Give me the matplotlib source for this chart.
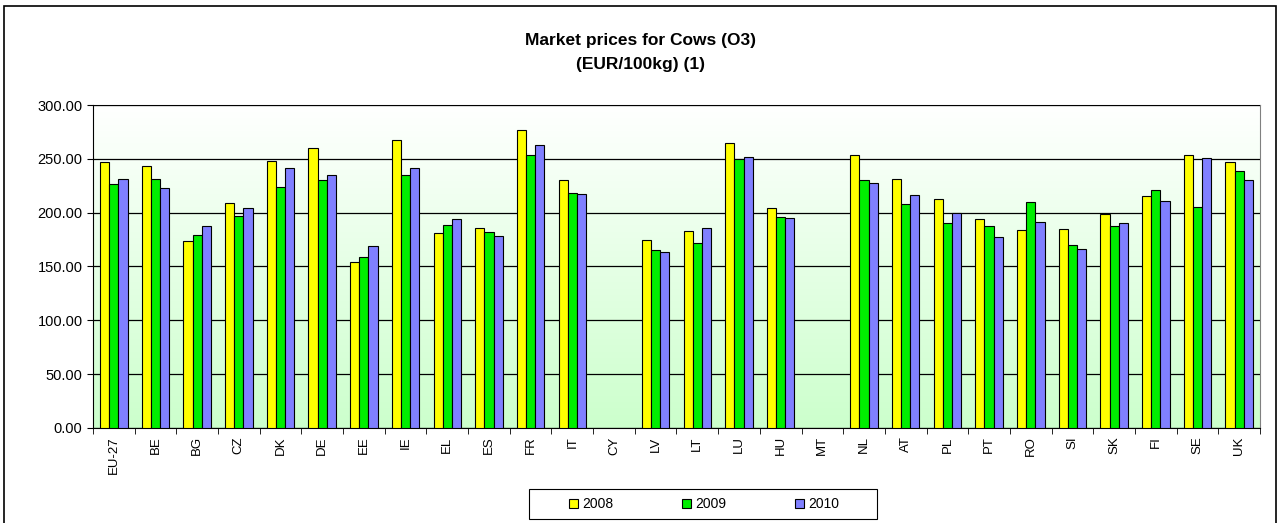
import matplotlib.pyplot as plt
import matplotlib.patches as mpatches
import numpy as np

plt.rcParams['font.family'] = ['Liberation Sans', 'DejaVu Sans']

countries = ['EU-27', 'BE', 'BG', 'CZ', 'DK', 'DE', 'EE', 'IE', 'EL', 'ES', 'FR', 'IT',
             'CY', 'LV', 'LT', 'LU', 'HU', 'MT', 'NL', 'AT', 'PL', 'PT', 'RO', 'SI',
             'SK', 'FI', 'SE', 'UK']
nan = np.nan
p2008 = [247.5, 243.0, 174.0, 209.0, 248.4, 260.5, 153.9, 267.9, 181.0, 185.7, 276.5, 229.9,
         nan, 174.9, 182.9, 265.0, 203.9, nan, 254.0, 231.0, 212.3, 193.7, 183.8, 184.4,
         199.0, 215.3, 253.3, 247.2]
p2009 = [227.0, 231.4, 179.0, 197.0, 223.4, 230.5, 159.0, 235.4, 189.0, 182.0, 253.3, 218.4,
         nan, 165.0, 171.8, 250.3, 195.9, nan, 230.8, 208.5, 190.0, 187.2, 209.8, 170.0,
         187.5, 221.0, 205.4, 238.8]
p2010 = [231.4, 223.0, 188.0, 204.0, 241.6, 235.0, 168.7, 241.9, 194.3, 178.0, 263.2, 217.2,
         nan, 163.7, 185.4, 252.1, 195.3, nan, 228.0, 216.6, 199.6, 177.3, 191.0, 166.2,
         190.3, 211.0, 251.2, 230.8]
years = ['2008', '2009', '2010']
colors = ['#ffff00', '#00ee00', '#8080ff']

fig = plt.figure(figsize=(12.81, 5.23), dpi=100)
ax = fig.add_axes([0.0726, 0.1817, 0.9110, 0.6175])

x = np.arange(len(countries))
w = 0.22
series = [p2008, p2009, p2010]
for i, vals in enumerate(series):
    ax.bar(x + (i - 1) * w, vals, w, color=colors[i], edgecolor='black',
           linewidth=0.8, label=years[i], zorder=3)

# gradient background, white at top to light green at bottom
grad = np.linspace(0, 1, 256).reshape(-1, 1)
top = np.array([1.0, 1.0, 1.0])
bot = np.array([0.80, 1.0, 0.80])
img = top + (bot - top) * grad[:, :, None] * np.ones((1, 1, 3))
ax.imshow(img, extent=[0, 1, 0, 1], transform=ax.transAxes, aspect='auto', zorder=0)

ax.set_xlim(-0.5, len(countries) - 0.5)
ax.set_ylim(0, 300)
ax.set_yticks(np.arange(0, 301, 50))
ax.set_yticklabels(['%.2f' % v for v in np.arange(0, 301, 50)], fontsize=10.5)
ax.yaxis.grid(True, color='black', linewidth=0.9, zorder=1)
ax.set_axisbelow(False)

ax.set_xticks(x)
ax.set_xticklabels(countries, rotation=90, fontsize=9.5)
ax.tick_params(axis='x', length=0, pad=6)
ax.set_xticks(np.arange(-0.5, len(countries), 1), minor=True)
ax.tick_params(axis='x', which='minor', length=4, direction='out')
ax.tick_params(axis='y', length=4, direction='out')

ax.spines['top'].set_color('#808080')
ax.spines['right'].set_color('#808080')
for s in ['left', 'bottom']:
    ax.spines[s].set_color('black')

fig.text(0.5, 0.922, 'Market prices for Cows (O3)', ha='center', va='center',
         fontsize=12.5, fontweight='bold')
fig.text(0.5, 0.876, '(EUR/100kg) (1)', ha='center', va='center',
         fontsize=12.5, fontweight='bold')

leg = fig.legend(loc='center', bbox_to_anchor=(0.5496, 0.0363), ncol=3,
                 fontsize=10, frameon=False,
                 handlelength=0.6, handleheight=0.6, handletextpad=0.3,
                 columnspacing=5.0, borderpad=0.0)
fig.patches.append(mpatches.Rectangle((0.413, 0.0076), 0.2716, 0.0574, transform=fig.transFigure,
                                      fill=False, edgecolor='black', linewidth=0.8))

fig.patches.append(mpatches.Rectangle((0.0031, -0.01), 0.9930, 0.9985, transform=fig.transFigure,
                                      fill=False, edgecolor='black', linewidth=1.2))

fig.savefig('out.png', dpi=100)
